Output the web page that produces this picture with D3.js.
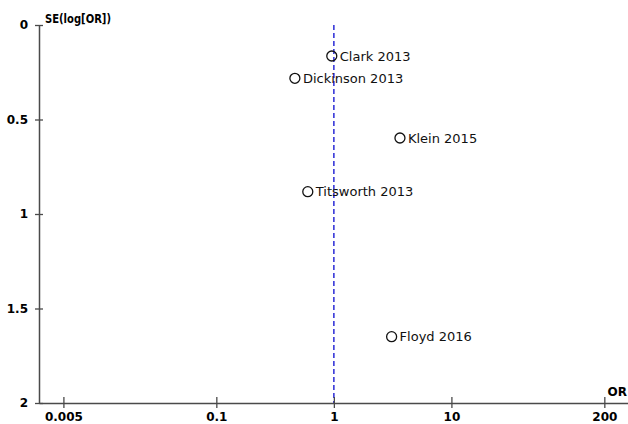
<!DOCTYPE html>
<html>
<head>
<meta charset="utf-8">
<script src="https://cdn.jsdelivr.net/npm/d3@7"></script>
<style>
  html, body { margin: 0; padding: 0; background: #fff; }
  svg { display: block; }
</style>
</head>
<body>
<svg id="chart" width="628" height="424"></svg>
<script>
// Data
const studies = ["Clark 2013", "Dickinson 2013", "Klein 2015", "Titsworth 2013", "Floyd 2016"];
const oddsRatios = [0.96, 0.466, 3.65, 0.60, 3.10];
const standardErrors = [0.164, 0.282, 0.598, 0.882, 1.649];
const xTickValues = [0.005, 0.1, 1, 10, 200];
const xTickLabels = ["0.005", "0.1", "1", "10", "200"];
const yTickValues = [0, 0.5, 1, 1.5, 2];
const yTickLabels = ["0", "0.5", "1", "1.5", "2"];
const xDomain = [0.0031, 318];
const yDomain = [0, 2];
const referenceOR = 1;

const svg = d3.select("#chart");
const x = d3.scaleLog().domain(xDomain).range([39, 628]);
const y = d3.scaleLinear().domain(yDomain).range([25, 403]);

const axisColor = "#4a4a4a";
const tickFont = "DejaVu Sans, sans-serif";

// Reference dashed line
svg.append("line")
  .attr("x1", x(referenceOR)).attr("x2", x(referenceOR))
  .attr("y1", y(0)).attr("y2", y(2))
  .attr("stroke", "#2b2bd6")
  .attr("stroke-width", 1.5)
  .attr("stroke-dasharray", "5,3");

// Y axis
const yAxis = d3.axisLeft(y)
  .tickValues(yTickValues)
  .tickFormat((d, i) => yTickLabels[i])
  .tickSizeInner(4).tickSizeOuter(0).tickPadding(7);
const gy = svg.append("g").attr("transform", `translate(${x(xDomain[0])},0)`).call(yAxis);
gy.select(".domain").attr("stroke", axisColor).attr("stroke-width", 1.5);
gy.selectAll(".tick line").attr("stroke", axisColor).attr("stroke-width", 1.3).attr("x2", 4).attr("x1", -4);
gy.selectAll(".tick text")
  .attr("font-family", tickFont).attr("font-weight", "bold").attr("font-size", 12).attr("fill", "#000");

// X axis
const xAxis = d3.axisBottom(x)
  .tickValues(xTickValues)
  .tickFormat((d, i) => xTickLabels[i])
  .tickSizeInner(5).tickSizeOuter(0).tickPadding(4);
const gx = svg.append("g").attr("transform", `translate(0,${y(2)})`).call(xAxis);
gx.select(".domain").attr("stroke", axisColor).attr("stroke-width", 1.5);
gx.selectAll(".tick line").attr("stroke", axisColor).attr("stroke-width", 1.3).attr("y1", -6).attr("y2", 5);
gx.selectAll(".tick text")
  .attr("font-family", tickFont).attr("font-weight", "bold").attr("font-size", 12).attr("fill", "#000");

// Axis titles
svg.append("text")
  .attr("x", 45).attr("y", 23)
  .attr("font-family", tickFont).attr("font-weight", "bold").attr("font-size", 12).attr("fill", "#000")
  .attr("textLength", 66).attr("lengthAdjust", "spacingAndGlyphs")
  .text("SE(log[OR])");
svg.append("text")
  .attr("x", 627).attr("y", 396)
  .attr("text-anchor", "end")
  .attr("font-family", tickFont).attr("font-weight", "bold").attr("font-size", 12).attr("fill", "#000")
  .text("OR");

// Points
const data = studies.map((s, i) => ({ name: s, or: oddsRatios[i], se: standardErrors[i] }));
const g = svg.append("g");
g.selectAll("circle").data(data).enter().append("circle")
  .attr("cx", d => x(d.or)).attr("cy", d => y(d.se))
  .attr("r", 5)
  .attr("fill", "none")
  .attr("stroke", "#111")
  .attr("stroke-width", 1.3);
g.selectAll("text.lbl").data(data).enter().append("text")
  .attr("class", "lbl")
  .attr("x", d => x(d.or) + 8).attr("y", d => y(d.se))
  .attr("dy", "0.36em")
  .attr("font-family", tickFont).attr("font-size", 13).attr("fill", "#111")
  .text(d => d.name);
</script>
</body>
</html>
